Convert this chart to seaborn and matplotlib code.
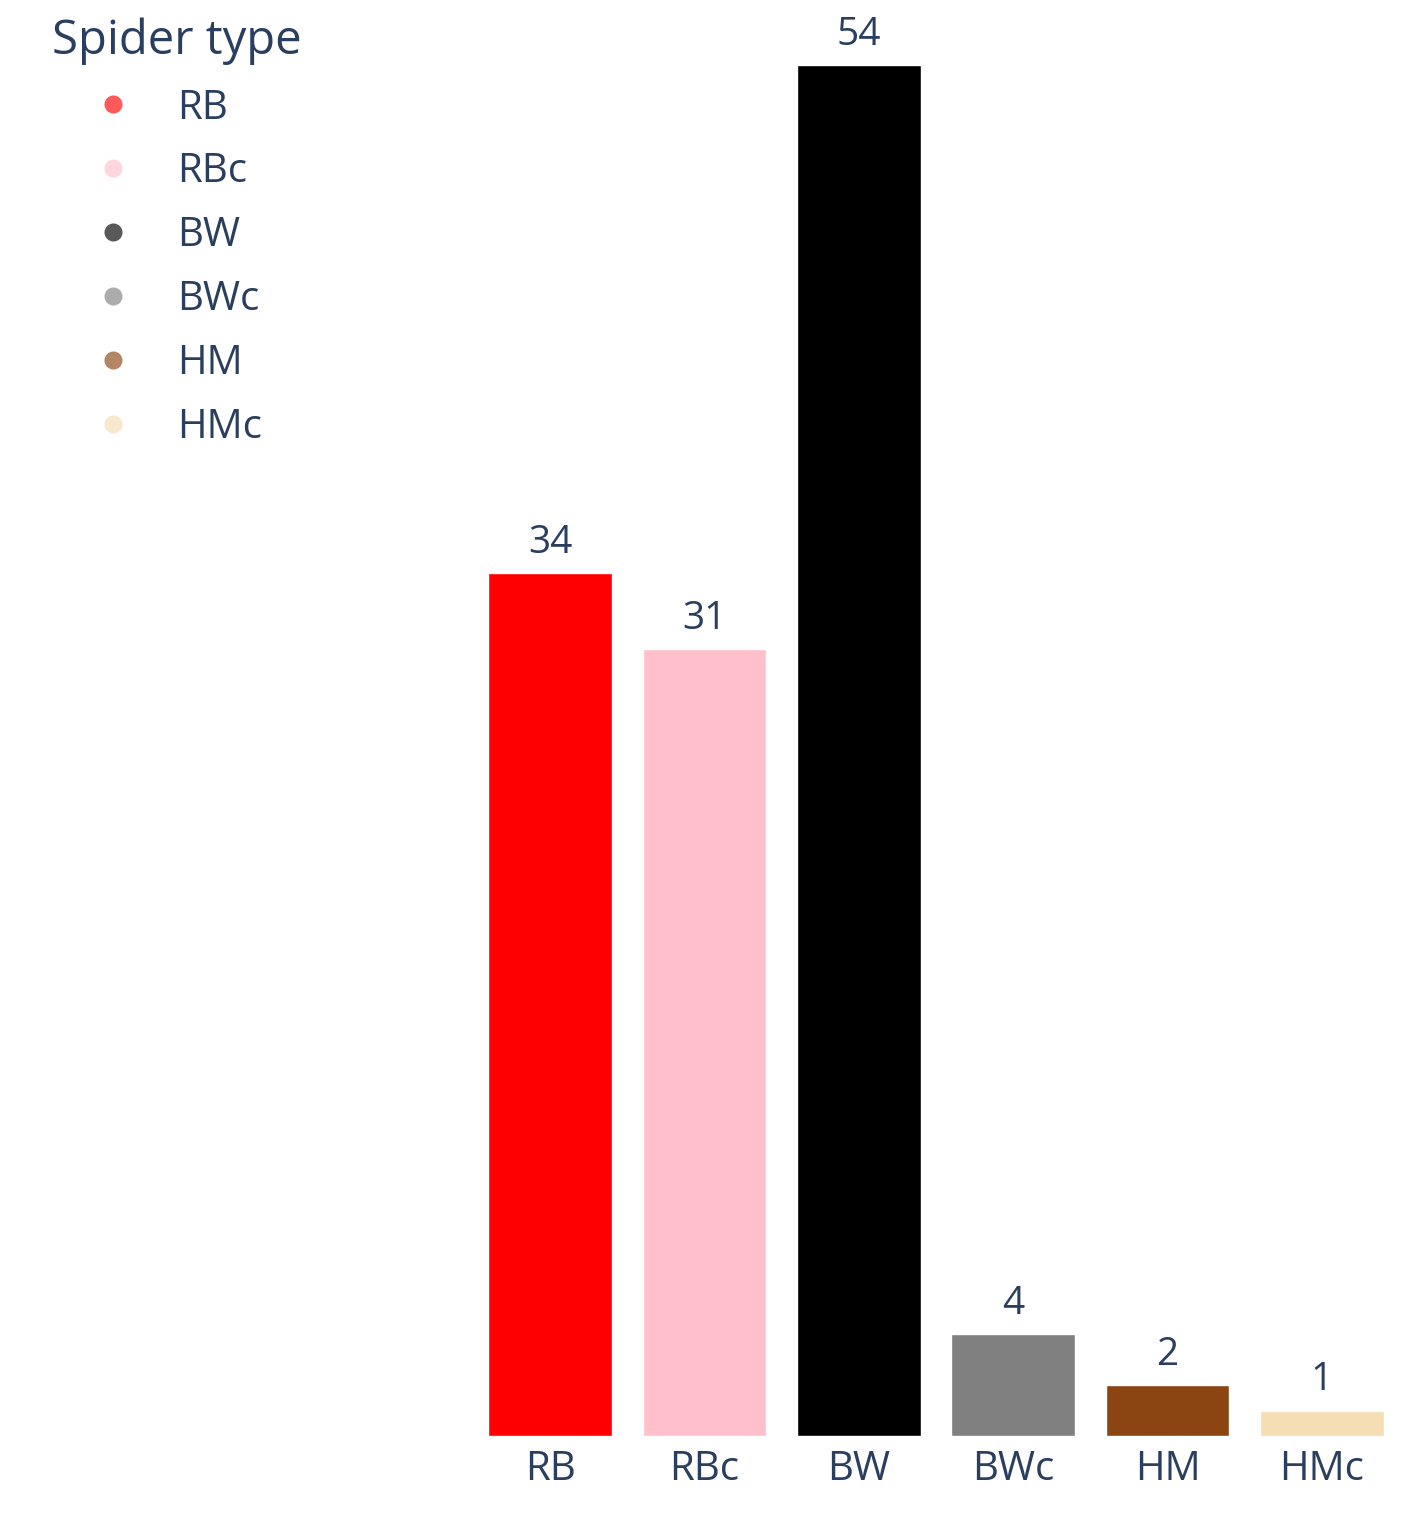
import matplotlib
matplotlib.use("Agg")
import matplotlib.pyplot as plt
from matplotlib.lines import Line2D
import seaborn as sns
import pandas as pd

# Spider counts by type
spider_types = ["RB", "RBc", "BW", "BWc", "HM", "HMc"]
counts = [34, 31, 54, 4, 2, 1]
bar_colors = ["#FF0000", "#FFC0CB", "#000000", "#808080", "#8B4513", "#F5DEB3"]

TEXT = "#2a3f5f"
FONT = ["Open Sans", "DejaVu Sans"]

sns.set_theme(style="white")
plt.rcParams["font.family"] = FONT
plt.rcParams["text.color"] = TEXT

df = pd.DataFrame({"type": spider_types, "count": counts})

fig = plt.figure(figsize=(14.08, 15.13), dpi=100)
ax = fig.add_axes([473 / 1408, 77 / 1513, (1399 - 473) / 1408, (1513 - 77 - 20) / 1513])

sns.barplot(data=df, x="type", y="count", hue="type", palette=bar_colors,
            legend=False, width=0.8, saturation=1, ax=ax, order=spider_types)

ax.set_xlim(-0.5, 5.5)
ax.set_ylim(0, (1436 - 20) / 25.39)
for c in ax.containers:
    ax.bar_label(c, fontsize=28, color=TEXT, padding=8)

ax.set_xlabel("")
ax.set_ylabel("")
ax.set_yticks([])
ax.tick_params(axis="x", length=0, pad=10, labelsize=29, labelcolor=TEXT)
sns.despine(ax=ax, left=True, bottom=True)

handles = [Line2D([], [], marker="o", linestyle="", color=c, alpha=0.65,
                  markersize=13, markeredgewidth=0) for c in bar_colors]
leg = fig.legend(handles, spider_types, title="Spider type", loc="upper left",
                 bbox_to_anchor=(32 / 1408, 1 + 3 / 1513), frameon=False,
                 fontsize=29, title_fontsize=34, alignment="left",
                 borderpad=0, handlelength=3.03, handletextpad=0.065,
                 labelspacing=0.58)
for t in leg.get_texts():
    t.set_color(TEXT)
leg.get_title().set_color(TEXT)

fig.savefig("out.png", dpi=100)
